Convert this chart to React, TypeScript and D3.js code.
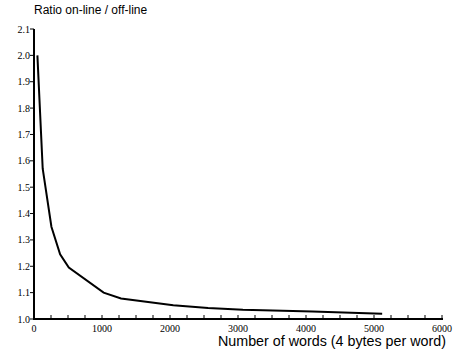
import React, { useEffect, useRef } from 'react';
import * as d3 from 'd3';

// words per block vs ratio of on-line to off-line
const words = [50, 128, 256, 384, 512, 1024, 1280, 2048, 2560, 3072, 4096, 5120];
const ratio = [2.0, 1.57, 1.35, 1.245, 1.195, 1.1, 1.078, 1.052, 1.042, 1.035, 1.028, 1.02];
const xTicks = [0, 1000, 2000, 3000, 4000, 5000, 6000];
const yTicks = [1.0, 1.1, 1.2, 1.3, 1.4, 1.5, 1.6, 1.7, 1.8, 1.9, 2.0, 2.1];

const W = 455;
const H = 353;

export default function App() {
  const ref = useRef<SVGSVGElement>(null);

  useEffect(() => {
    const svg = d3.select(ref.current);
    svg.selectAll('*').remove();

    const left = 34, right = 442, top = 29, bottom = 319;
    const x = d3.scaleLinear().domain([0, 6000]).range([left, right]);
    const y = d3.scaleLinear().domain([1.0, 2.1]).range([bottom, top]);

    // minor x ticks every 250, drawn inward
    const minor = d3.range(0, 6001, 250);
    svg.append('g')
      .selectAll('line')
      .data(minor)
      .enter()
      .append('line')
      .attr('x1', d => x(d))
      .attr('x2', d => x(d))
      .attr('y1', bottom)
      .attr('y2', bottom - 4)
      .attr('stroke', '#000')
      .attr('stroke-width', 1);

    svg.append('line')
      .attr('x1', left).attr('x2', right + 1)
      .attr('y1', bottom).attr('y2', bottom)
      .attr('stroke', '#000').attr('stroke-width', 2);

    svg.append('g')
      .selectAll('text')
      .data(xTicks)
      .enter()
      .append('text')
      .attr('x', d => x(d))
      .attr('y', bottom + 13)
      .attr('text-anchor', 'middle')
      .attr('font-family', 'Liberation Serif, Times New Roman, serif')
      .attr('font-size', 10)
      .text(d => String(d));

    // y axis
    svg.append('line')
      .attr('x1', left).attr('x2', left)
      .attr('y1', top).attr('y2', bottom + 1)
      .attr('stroke', '#000').attr('stroke-width', 2);

    const yg = svg.append('g');
    yg.selectAll('line')
      .data(yTicks)
      .enter()
      .append('line')
      .attr('x1', left - 4)
      .attr('x2', left)
      .attr('y1', d => y(d))
      .attr('y2', d => y(d))
      .attr('stroke', '#000');
    yg.selectAll('text')
      .data(yTicks)
      .enter()
      .append('text')
      .attr('x', left - 4)
      .attr('y', d => y(d) + 3.5)
      .attr('text-anchor', 'end')
      .attr('font-family', 'Liberation Serif, Times New Roman, serif')
      .attr('font-size', 10)
      .text(d => d.toFixed(1));

    const line = d3.line<number>()
      .x((d, i) => x(words[i]))
      .y(d => y(d));

    svg.append('path')
      .datum(ratio)
      .attr('d', line)
      .attr('fill', 'none')
      .attr('stroke', '#000')
      .attr('stroke-width', 2);

    svg.append('text')
      .attr('x', 34)
      .attr('y', 14)
      .attr('font-family', 'Liberation Sans, Arial, sans-serif')
      .attr('font-size', 12)
      .text('Ratio on-line / off-line');

    svg.append('text')
      .attr('x', 446)
      .attr('y', 346)
      .attr('text-anchor', 'end')
      .attr('font-family', 'Liberation Sans, Arial, sans-serif')
      .attr('font-size', 14.3)
      .text('Number of words (4 bytes per word)');
  }, []);

  return (
    <svg ref={ref} width={W} height={H} style={{ position: 'absolute', left: 0, top: 0, background: '#fff' }} />
  );
}
